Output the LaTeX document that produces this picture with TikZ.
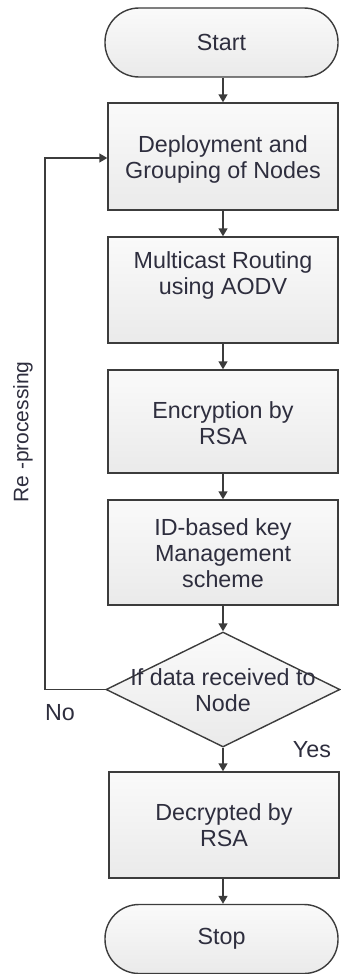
\documentclass[tikz,border=0pt]{standalone}
\usepackage{fontspec}
\setmainfont{Liberation Sans}
\usetikzlibrary{shapes.geometric,arrows.meta}
\definecolor{edge}{HTML}{3C3C3C}
\definecolor{txt}{HTML}{2E2E3E}
\definecolor{fillT}{HTML}{FAFAFA}
\definecolor{fillB}{HTML}{EAEAEA}
\tikzset{
  base/.style={draw=edge, line width=1.4pt, top color=fillT, bottom color=fillB,
    text=txt, align=center, inner sep=0pt, font=\fontsize{23.3}{26}\selectfont},
  stepbox/.style={base, rectangle, minimum width=230pt},
  term/.style={base, rectangle, rounded corners=34pt, minimum width=233pt, minimum height=69pt},
  decis/.style={base, diamond, minimum width=234pt, minimum height=115pt},
  lbl/.style={text=txt, inner sep=0pt, font=\fontsize{23.3}{26}\selectfont, align=center},
  arr/.style={draw=edge, line width=1.4pt, -{Triangle[length=8pt,width=9pt]}},
}
\begin{document}
\begin{tikzpicture}[x=1pt,y=-1pt]
\useasboundingbox (0,0) rectangle (340,974);
\node[term] (start) at (221.5,42.5) {Start};
\node[stepbox, minimum height=107pt] (b1) at (223,156.5) {};
\node[lbl] (t1) at (223,159.5) {Deployment and\\Grouping of Nodes};
\node[stepbox, minimum height=106pt] (b2) at (223,290) {};
\node[lbl] (t2) at (223,275) {Multicast Routing\\using AODV};
\node[stepbox, minimum height=103pt] (b3) at (223,421.5) {};
\node[lbl] (t3) at (223,423) {Encryption by\\RSA};
\node[stepbox, minimum height=105pt] (b4) at (223,552.5) {};
\node[lbl] (t4) at (223,553) {ID-based key\\Management\\scheme};
\node[decis] (dec) at (223,689.5) {};
\node[lbl] (t5) at (223,690) {If data received to\\Node};
\node[stepbox, minimum height=106pt] (b5) at (224,825) {};
\node[lbl] (t6) at (224,825) {Decrypted by\\RSA};
\node[term] (stop) at (221.5,939) {Stop};
\coordinate (lp) at (45,158);
\draw[arr] (start.south -| 223,0) -- (b1.north -| 223,0);
\draw[arr] (b1.south -| 223,0) -- (b2.north -| 223,0);
\draw[arr] (b2.south -| 223,0) -- (b3.north -| 223,0);
\draw[arr] (b3.south -| 223,0) -- (b4.north -| 223,0);
\draw[arr] (b4.south -| 223,0) -- (dec.north);
\draw[arr] (dec.south) -- (b5.north -| 223,0);
\draw[arr] (b5.south -| 223,0) -- (stop.north -| 223,0);
\draw[arr] (dec.west) -| (lp) -- (lp -| b1.west);
\node[lbl, rotate=90, font=\fontsize{21}{24}\selectfont] (rp) at (23,432) {Re -processing};
\node[lbl] (no) at (60,713) {No};
\node[lbl] (yes) at (312,750) {Yes};
\end{tikzpicture}
\end{document}
